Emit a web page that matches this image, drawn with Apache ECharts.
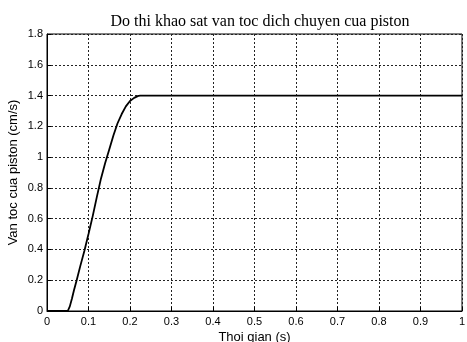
<!DOCTYPE html>
<html><head><meta charset="utf-8">
<script src="https://cdn.jsdelivr.net/npm/echarts@6/dist/echarts.min.js"></script>
<style>html,body{margin:0;padding:0;background:#fff}#c{width:467px;height:342px}</style>
</head><body><div id="c"></div>
<script>
var timeValues = [0, 0.05, 0.055, 0.06, 0.065, 0.0715, 0.08, 0.09, 0.1, 0.11, 0.12, 0.13, 0.14, 0.15, 0.16, 0.17, 0.18, 0.19, 0.2, 0.21, 0.22, 0.225, 1];
var velocityValues = [0, 0, 0.03, 0.08, 0.135, 0.2, 0.29, 0.39, 0.5, 0.615, 0.74, 0.86, 0.96, 1.05, 1.14, 1.22, 1.28, 1.33, 1.365, 1.385, 1.398, 1.4, 1.4];
var xTicks = [0, 0.1, 0.2, 0.3, 0.4, 0.5, 0.6, 0.7, 0.8, 0.9, 1];
var yTicks = [0, 0.2, 0.4, 0.6, 0.8, 1, 1.2, 1.4, 1.6, 1.8];

var data = timeValues.map(function (t, i) { return [t, velocityValues[i]]; });
var chart = echarts.init(document.getElementById('c'), null, {renderer: 'canvas'});
var lbl = {color: '#000', fontFamily: 'Liberation Sans, Arial, sans-serif', fontSize: 11};
chart.setOption({
  animation: false,
  backgroundColor: '#fff',
  title: {
    text: 'Do thi khao sat van toc dich chuyen cua piston',
    left: 255, top: 9, textAlign: 'center',
    textStyle: {fontFamily: 'Liberation Serif, Times New Roman, serif', fontWeight: 'normal', fontSize: 16, color: '#000'}
  },
  grid: {left: 47, right: 5, top: 34, bottom: 31, show: true, borderColor: '#000', borderWidth: 1, outerBoundsMode: 'none', containLabel: false},
  xAxis: {
    type: 'value', min: 0, max: 1, interval: 0.1,
    name: 'Thoi gian (s)', nameLocation: 'middle', nameGap: 20, nameMoveOverlap: false,
    nameTextStyle: {color: '#000', fontFamily: 'Liberation Sans, Arial, sans-serif', fontSize: 13},
    axisLine: {show: true, lineStyle: {color: '#000', width: 1}},
    axisTick: {show: true, inside: true, length: 4, lineStyle: {color: '#000'}},
    axisLabel: Object.assign({margin: 5, formatter: function (v) { return String(Math.round(v * 10) / 10); }}, lbl),
    splitLine: {show: true, lineStyle: {color: '#222', type: [2, 2], width: 1}}
  },
  yAxis: {
    type: 'value', min: 0, max: 1.8, interval: 0.2,
    name: 'Van toc cua piston (cm/s)', nameLocation: 'middle', nameGap: 27, nameMoveOverlap: false,
    nameTextStyle: {color: '#000', fontFamily: 'Liberation Sans, Arial, sans-serif', fontSize: 13},
    axisLine: {show: true, lineStyle: {color: '#000', width: 1}},
    axisTick: {show: true, inside: true, length: 4, lineStyle: {color: '#000'}},
    axisLabel: Object.assign({margin: 4, formatter: function (v) { return String(Math.round(v * 10) / 10); }}, lbl),
    splitLine: {show: true, lineStyle: {color: '#222', type: [2, 2], width: 1}}
  },
  series: [{
    type: 'line', data: data, showSymbol: false, smooth: false,
    lineStyle: {color: '#000', width: 1.8}
  }]
});
</script></body></html>
